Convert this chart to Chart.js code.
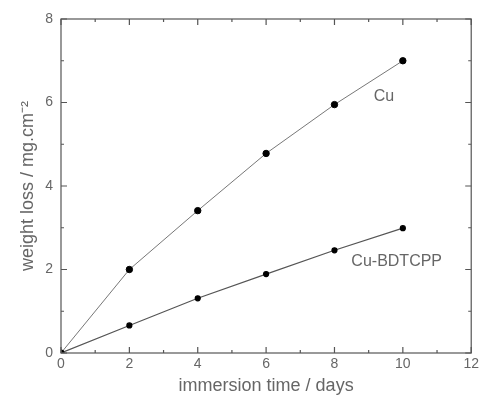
<!DOCTYPE html>
<html>
<head>
<meta charset="utf-8">
<script src="https://cdn.jsdelivr.net/npm/chart.js@4"></script>
<style>
  html, body { margin: 0; padding: 0; background: #fff; }
  #wrap { width: 482px; height: 397px; }
</style>
</head>
<body>
<div id="wrap"><canvas id="lossChart"></canvas></div>
<script>
// immersion time (days)
const days = [0, 2, 4, 6, 8, 10];
// weight loss, mg.cm-2
const lossCu = [0, 2.0, 3.41, 4.78, 5.95, 7.0];
const lossCuBDTCPP = [0, 0.66, 1.31, 1.89, 2.46, 2.99];
const xTicks = [0, 2, 4, 6, 8, 10, 12];
const yTicks = [0, 2, 4, 6, 8];
// curve labels, placed in data coordinates
const curveLabels = [
    { text: 'Cu', x: 9.45, y: 6.15 },
    { text: 'Cu-BDTCPP', x: 9.82, y: 2.2 }
];

const axisColor = '#555';
const textColor = '#666';
const fontFamily = "'Liberation Sans', Arial, sans-serif";

function toPoints(xs, ys) {
    return xs.map((x, i) => ({ x: x, y: ys[i] }));
}

// frame + inward ticks on all four sides, labels next to curves
const framePlugin = {
    id: 'frame',
    afterDatasetsDraw(chart) {
        const ctx = chart.ctx;
        const a = chart.chartArea;
        const xs = chart.scales.x, ys = chart.scales.y;
        ctx.save();
        ctx.strokeStyle = axisColor;
        ctx.lineWidth = 1.2;
        ctx.strokeRect(a.left, a.top, a.right - a.left, a.bottom - a.top);
        ctx.beginPath();
        for (let v = xs.min; v <= xs.max; v += 1) {
            const px = xs.getPixelForValue(v);
            const len = v % 2 === 0 ? 6 : 3;
            ctx.moveTo(px, a.bottom); ctx.lineTo(px, a.bottom - len);
            ctx.moveTo(px, a.top); ctx.lineTo(px, a.top + len);
        }
        for (let v = ys.min; v <= ys.max; v += 1) {
            const py = ys.getPixelForValue(v);
            const len = v % 2 === 0 ? 6 : 3;
            ctx.moveTo(a.left, py); ctx.lineTo(a.left + len, py);
            ctx.moveTo(a.right, py); ctx.lineTo(a.right - len, py);
        }
        ctx.stroke();

        ctx.fillStyle = textColor;
        ctx.font = '16px ' + fontFamily;
        ctx.textAlign = 'center';
        ctx.textBaseline = 'middle';
        curveLabels.forEach(l => {
            ctx.fillText(l.text, xs.getPixelForValue(l.x), ys.getPixelForValue(l.y));
        });
        ctx.restore();
    }
};

new Chart(document.getElementById('lossChart'), {
    type: 'scatter',
    data: {
        datasets: [{
            label: 'Cu',
            data: toPoints(days, lossCu),
            showLine: true,
            borderColor: '#777',
            borderWidth: 1,
            pointBackgroundColor: '#000',
            pointBorderColor: '#000',
            pointRadius: 3.2
        }, {
            label: 'Cu-BDTCPP',
            data: toPoints(days, lossCuBDTCPP),
            showLine: true,
            borderColor: '#555',
            borderWidth: 1.2,
            pointBackgroundColor: '#000',
            pointBorderColor: '#000',
            pointRadius: 2.5
        }]
    },
    options: {
        responsive: true,
        maintainAspectRatio: false,
        animation: false,
        layout: { padding: { top: 19, right: 9, left: 17, bottom: 0 } },
        plugins: {
            legend: { display: false },
            tooltip: { enabled: false }
        },
        scales: {
            x: {
                type: 'linear',
                min: 0, max: 12,
                afterBuildTicks: s => { s.ticks = xTicks.map(v => ({ value: v })); },
                afterFit: s => { s.height = 44; },
                grid: { display: false, drawTicks: false },
                border: { display: false },
                ticks: { color: textColor, font: { family: fontFamily, size: 14 }, padding: 3, maxRotation: 0 },
                title: {
                    display: true,
                    text: 'immersion time / days',
                    color: textColor,
                    font: { family: fontFamily, size: 18 },
                    padding: { top: 0, bottom: 0 }
                }
            },
            y: {
                type: 'linear',
                min: 0, max: 8,
                afterBuildTicks: s => { s.ticks = yTicks.map(v => ({ value: v })); },
                afterFit: s => { s.width = 44; },
                grid: { display: false, drawTicks: false },
                border: { display: false },
                ticks: { color: textColor, font: { family: fontFamily, size: 14 }, padding: 8 },
                title: {
                    display: true,
                    text: 'weight loss / mg.cm\u207B\u00B2',
                    color: textColor,
                    font: { family: fontFamily, size: 18 },
                    padding: { top: 0, bottom: 0 }
                }
            }
        }
    },
    plugins: [framePlugin]
});
</script>
</body>
</html>
